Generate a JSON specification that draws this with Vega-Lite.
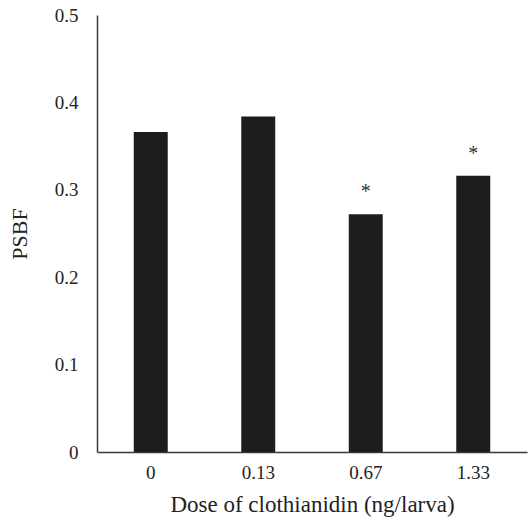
{
  "$schema": "https://vega.github.io/schema/vega-lite/v6.json",
  "autosize": {"type": "none"},
  "padding": {"left": 97, "top": 15, "right": 3, "bottom": 65},
  "width": 430,
  "height": 437,
  "background": "white",
  "data": {"values": [
    {"dose": "0", "PSBF": 0.366, "sig": ""},
    {"dose": "0.13", "PSBF": 0.384, "sig": ""},
    {"dose": "0.67", "PSBF": 0.272, "sig": "*"},
    {"dose": "1.33", "PSBF": 0.316, "sig": "*"}
  ]},
  "config": {
    "view": {"stroke": null},
    "font": "Liberation Serif",
    "axis": {"grid": false, "ticks": false, "domainColor": "#3a3a3a", "domainWidth": 1.5, "labelColor": "#222", "titleColor": "#222", "labelFont": "Liberation Serif", "titleFont": "Liberation Serif", "titleFontWeight": "normal", "labelFontSize": 19, "titleFontSize": 22}
  },
  "encoding": {
    "x": {"field": "dose", "type": "nominal", "sort": null,
      "scale": {"paddingInner": 0.684, "paddingOuter": 0.342},
      "axis": {"title": "Dose of clothianidin (ng/larva)", "titleFontSize": 23, "labelAngle": 0, "labelPadding": 11, "titlePadding": 11}},
    "y": {"field": "PSBF", "type": "quantitative",
      "scale": {"domain": [0, 0.5]},
      "axis": {"title": "PSBF", "values": [0, 0.1, 0.2, 0.3, 0.4, 0.5], "format": ".1~f", "labelPadding": 19, "titlePadding": 23}}
  },
  "layer": [
    {"mark": {"type": "bar", "color": "#1d1d1d"}},
    {"mark": {"type": "text", "baseline": "alphabetic", "dy": -16, "fontSize": 20, "color": "#333"},
     "encoding": {"text": {"field": "sig"}}}
  ]
}
